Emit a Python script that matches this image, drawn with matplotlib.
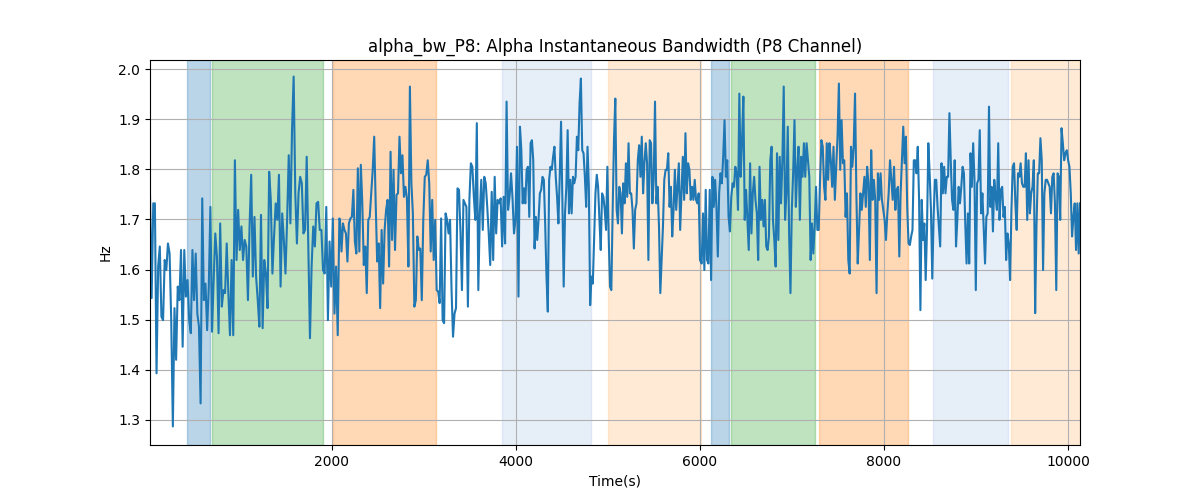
import numpy as np
import matplotlib
matplotlib.use("Agg")
import matplotlib.pyplot as plt

# ---- data ----
seg1_range = (22, 2080)
seg1 = [1.749,1.543,1.732,1.732,1.393,1.606,1.646,1.506,1.499,1.619,1.599,1.652,1.632,1.499,1.287,1.523,1.420,1.566,1.539,1.639,
        1.446,1.639,1.546,1.579,1.499,1.473,1.639,1.539,1.632,1.512,1.486,1.333,1.742,1.539,1.572,1.479,1.566,1.725,1.476,1.579,
        1.672,1.626,1.473,1.692,1.526,1.559,1.553,1.652,1.553,1.469,1.619,1.469,1.818,1.619,1.719,1.639,1.686,1.619,1.659,1.646,
        1.539,1.686,1.789,1.586,1.705,1.586,1.539,1.486,1.709,1.483,1.619,1.592,1.523,1.795,1.739,1.592,1.666,1.732,1.699,1.789,
        1.566,1.712,1.659,1.592,1.699,1.828,1.692,1.878,1.985,1.752,1.652,1.752,1.785,1.772,1.672,1.679,1.825,1.646,1.463,1.606,
        1.686,1.646,1.732,1.735,1.679,1.679,1.599,1.592,1.725,1.499,1.656,1.566,1.702,1.512,1.606,1.469,1.702]

seg2_range = (2087, 4043)
seg2 = [1.699,1.636,1.692,1.679,1.672,1.616,1.692,1.702,1.705,1.759,1.656,1.632,1.802,1.636,1.809,1.732,1.609,1.646,1.553,1.699,
        1.705,1.752,1.799,1.865,1.732,1.616,1.652,1.523,1.679,1.572,1.679,1.719,1.739,1.606,1.835,1.659,1.799,1.639,1.749,1.752,
        1.865,1.792,1.828,1.745,1.765,1.742,1.606,1.965,1.772,1.712,1.526,1.539,1.666,1.639,1.642,1.539,1.699,1.785,1.789,1.818,
        1.772,1.636,1.739,1.619,1.699,1.559,1.556,1.533,1.702,1.499,1.493,1.712,1.699,1.672,1.699,1.559,1.466,1.512,1.523,1.762,
        1.759,1.676,1.559,1.739,1.732,1.725,1.526,1.739,1.812,1.805,1.745,1.699,1.892,1.559,1.712,1.779,1.679,1.785,1.772,1.725,
        1.672,1.609,1.755,1.619,1.785,1.672,1.739,1.732,1.742,1.646,1.745,1.652,1.935,1.719,1.745,1.792,1.742,1.672,1.699,1.845,
        1.546,1.885]

seg3_range = (4058, 6000)
seg3 = [1.838,1.732,1.762,1.732,1.799,1.805,1.705,1.852,1.858,1.818,1.642,1.705,1.659,1.699,1.752,1.759,1.785,1.779,1.692,1.586,
        1.516,1.779,1.805,1.799,1.825,1.845,1.785,1.745,1.692,1.785,1.895,1.739,1.566,1.712,1.765,1.878,1.712,1.779,1.712,1.785,
        1.772,1.785,1.865,1.838,1.932,1.981,1.838,1.832,1.785,1.725,1.845,1.765,1.529,1.586,1.572,1.659,1.752,1.789,1.765,1.699,
        1.639,1.752,1.745,1.719,1.679,1.805,1.666,1.566,1.559,1.719,1.858,1.941,1.719,1.692,1.765,1.752,1.672,1.772,1.732,1.812,
        1.745,1.852,1.752,1.752,1.719,1.642,1.719,1.732,1.818,1.848,1.785,1.865,1.752,1.812,1.852,1.812,1.619,1.858,1.852,1.732,
        1.779,1.935,1.732,1.765,1.686,1.553,1.619,1.686,1.779,1.799,1.799,1.832,1.725,1.765,1.666,1.719,1.799,1.719,1.765,1.812,
        1.679,1.752,1.825,1.739,1.872,1.752,1.812,1.799,1.739,1.765,1.739,1.779,1.739,1.732,1.752,1.619]

seg4_range = (6018, 8065)
seg4 = [1.612,1.712,1.599,1.759,1.619,1.612,1.759,1.579,1.785,1.725,1.779,1.725,1.626,1.752,1.792,1.772,1.825,1.898,1.785,1.818,
        1.705,1.676,1.745,1.772,1.765,1.805,1.792,1.719,1.951,1.785,1.858,1.945,1.699,1.759,1.699,1.639,1.812,1.672,1.752,1.785,
        1.739,1.712,1.619,1.805,1.699,1.739,1.686,1.739,1.646,1.639,1.666,1.818,1.845,1.699,1.659,1.606,1.832,1.659,1.825,1.732,
        1.818,1.965,1.699,1.752,1.885,1.672,1.553,1.719,1.792,1.898,1.725,1.799,1.845,1.699,1.825,1.785,1.852,1.785,1.852,1.818,
        1.785,1.619,1.692,1.632,1.686,1.765,1.679,1.679,1.779,1.858,1.845,1.765,1.739,1.852,1.779,1.852,1.818,1.765,1.845,1.739,
        1.805,1.865,1.971,1.799,1.898,1.812,1.818,1.705,1.752,1.619,1.592,1.845,1.805,1.845,1.951,1.752,1.612,1.679,1.752,1.719,
        1.752,1.785,1.725,1.805,1.772,1.619,1.838,1.739,1.779,1.739,1.553,1.792,1.739,1.792,1.739,1.719,1.699,1.659,1.712,1.752,
        1.818]

seg5_range = (8080, 10130)
seg5 = [1.779,1.739,1.805,1.719,1.759,1.765,1.626,1.752,1.818,1.885,1.812,1.865,1.725,1.652,1.649,1.666,1.679,1.818,1.818,1.792,
        1.845,1.739,1.519,1.739,1.659,1.692,1.579,1.679,1.852,1.792,1.719,1.582,1.705,1.779,1.779,1.725,1.686,1.646,1.812,1.752,
        1.805,1.752,1.785,1.785,1.912,1.818,1.739,1.719,1.818,1.646,1.699,1.765,1.732,1.765,1.805,1.792,1.692,1.612,1.712,1.612,
        1.832,1.765,1.852,1.779,1.559,1.772,1.779,1.878,1.712,1.752,1.679,1.612,1.705,1.712,1.925,1.725,1.765,1.676,1.779,1.745,
        1.719,1.852,1.699,1.759,1.765,1.705,1.725,1.619,1.672,1.652,1.579,1.719,1.805,1.812,1.732,1.679,1.792,1.785,1.812,1.772,
        1.765,1.765,1.832,1.699,1.818,1.712,1.752,1.765,1.818,1.513,1.686,1.792,1.792,1.862,1.818,1.599,1.752,1.779,1.779,1.772,
        1.765,1.712,1.785,1.792,1.732,1.559,1.792,1.785,1.699,1.882,1.852,1.818,1.832,1.838,1.818,1.805,1.752,1.666,1.705,1.732,
        1.639,1.732,1.632,1.732]

# shaded phases: (start, end, colour, alpha)
span_starts = [424, 696, 2011, 3848, 5000, 6120, 6337, 7293, 8533, 9380]
span_ends   = [674, 1902, 3130, 4815, 6011, 6315, 7250, 8261, 9348, 10130]
span_colors = ['tab:blue', 'tab:green', 'tab:orange', '#aec7e8', '#ffbb78',
               'tab:blue', 'tab:green', 'tab:orange', '#aec7e8', '#ffbb78']

title = "alpha_bw_P8: Alpha Instantaneous Bandwidth (P8 Channel)"

# ---- build series ----
segments = [(seg1_range, seg1), (seg2_range, seg2), (seg3_range, seg3),
            (seg4_range, seg4), (seg5_range, seg5)]
times, vals = [], []
for (a, b), v in segments:
    times.append(np.linspace(a, b, len(v)))
    vals.append(np.asarray(v))
t = np.concatenate(times)
y = np.concatenate(vals)

fig, ax = plt.subplots(figsize=(12, 5), dpi=100)
for s, e, c in zip(span_starts, span_ends, span_colors):
    ax.axvspan(s, e, color=c, alpha=0.3)
ax.plot(t, y, color='tab:blue', linewidth=1.5)
ax.set_xlim(t[0], t[-1])
ax.set_ylim(1.25, 2.018)
ax.grid(True)
ax.set_title(title)
ax.set_xlabel("Time(s)")
ax.set_ylabel("Hz")
fig.savefig("out.png")
